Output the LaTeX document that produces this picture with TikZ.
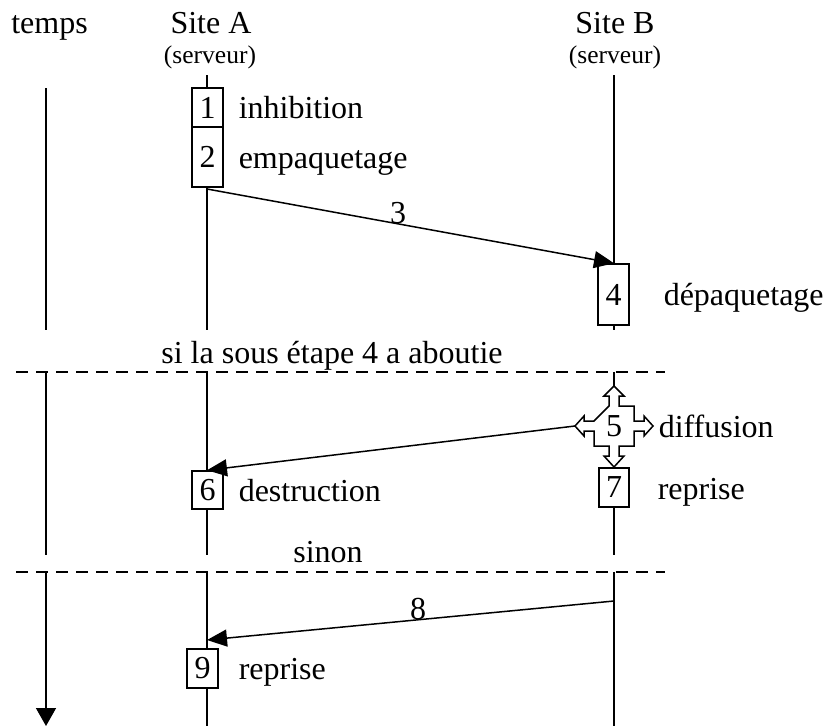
\documentclass[tikz,border=0pt]{standalone}
\usepackage{fontspec}
\setmainfont{Liberation Serif}
\usetikzlibrary{arrows.meta}
\begin{document}
\begin{tikzpicture}[x=1pt,y=-1pt,
  line width=1.5pt,
  txt/.style={font=\fontsize{32}{34}\selectfont, inner sep=0pt},
  small/.style={font=\fontsize{25.5}{27}\selectfont, inner sep=0pt},
  stepbox/.style={draw, fill=white, inner sep=0pt, font=\fontsize{32}{34}\selectfont},
  msg/.style={-{Triangle[length=20pt,width=17pt]}},
  sep/.style={dash pattern=on 12pt off 8pt, line width=1.4pt}]
\useasboundingbox (0,0) rectangle (825,726);

% column headers
\node[txt, anchor=base] (tH) at (49.5,33) {temps};
\node[txt, anchor=base] (aH) at (211,33) {Site A};
\node[small, anchor=base] (aS) at (210,63) {(serveur)};
\node[txt, anchor=base] (bH) at (615,33) {Site B};
\node[small, anchor=base] (bS) at (615,63) {(serveur)};

% section separators
\draw[sep] (16,372) coordinate (d1w) -- (665,372) coordinate (d1e);
\draw[sep] (16,572) coordinate (d2w) -- (665,572) coordinate (d2e);
\node[txt, anchor=base] (cond) at (332,363) {si la sous étape 4 a aboutie};
\node[txt, anchor=base] (else) at (328,562) {sinon};

% time axis
\coordinate (t1a) at (46,88);  \coordinate (t1b) at (46,330);
\coordinate (t2a) at (46,372); \coordinate (t2b) at (46,555);
\coordinate (t3a) at (46,572); \coordinate (t3b) at (46,726);
\draw (t1a) -- (t1b);
\draw (t2a) -- (t2b);
\draw[-{Triangle[length=18pt,width=20pt]}] (t3a) -- (t3b);

% lifelines
\coordinate (a1) at (207,75);  \coordinate (a2) at (207,330);
\coordinate (a3) at (207,372); \coordinate (a4) at (207,555);
\coordinate (a5) at (207,572); \coordinate (a6) at (207,726);
\coordinate (b1) at (614,75);  \coordinate (b2) at (614,330);
\coordinate (b3) at (614,372); \coordinate (b4) at (614,555);
\coordinate (b5) at (614,572); \coordinate (b6) at (614,726);
\draw (a1) -- (a2);
\draw (a3) -- (a4);
\draw (a5) -- (a6);
\draw (b1) -- (b2);
\draw (b3) -- (b4);
\draw (b5) -- (b6);

% step boxes
\node[stepbox, minimum width=31, minimum height=39] (s1) at (207.5,107.5) {1};
\node[stepbox, minimum width=31, minimum height=60] (s2) at (207.5,157) {2};
\node[stepbox, minimum width=31, minimum height=61] (s4) at (613.5,294.5) {4};
\node[stepbox, minimum width=31, minimum height=38] (s6) at (207.5,490) {6};
\node[stepbox, minimum width=30, minimum height=39] (s7) at (614,487.5) {7};
\node[stepbox, minimum width=31, minimum height=39] (s9) at (202.5,668.5) {9};

% broadcast step: four-way arrow
\begin{scope}[shift={(614,426)}]
  \filldraw[fill=white, line join=miter]
    (-5,-20) -- (-5,-30) -- (-10,-30) -- (0,-40) -- (10,-30) -- (5,-30) -- (5,-20)
    -- (20,-20) -- (20,-5) -- (30,-5) -- (30,-10) -- (39,0) -- (30,10) -- (30,5) -- (20,5)
    -- (20,20) -- (5,20) -- (5,30) -- (10,30) -- (0,41) -- (-10,30) -- (-5,30) -- (-5,20)
    -- (-20,20) -- (-20,5) -- (-30,5) -- (-30,10) -- (-39,0) -- (-30,-10) -- (-30,-5) -- (-20,-5)
    -- cycle;
  \coordinate (s5w) at (-39,0);
\end{scope}
\node[txt] (s5) at (614,426) {5};

% step labels
\node[txt, anchor=base west] (l1) at (238,118) {inhibition};
\node[txt, anchor=base west] (l2) at (238,168) {empaquetage};
\node[txt, anchor=base west] (l4) at (663,305) {dépaquetage};
\node[txt, anchor=base west] (l5) at (658,437) {diffusion};
\node[txt, anchor=base west] (l6) at (238,501) {destruction};
\node[txt, anchor=base west] (l7) at (657,499) {reprise};
\node[txt, anchor=base west] (l9) at (238,679) {reprise};

% messages
\coordinate (m3a) at (207,189);
\draw[msg] (m3a) -- (s4.north -| b1);
\node[txt, anchor=base] (n3) at (398,223) {3};
\draw[msg] (s5w) -- (s6.north -| a1);
\coordinate (m8a) at (614,601);
\coordinate (m8b) at (207,640);
\draw[msg] (m8a) -- (m8b);
\node[txt, anchor=base] (n8) at (418,619) {8};
\end{tikzpicture}
\end{document}
